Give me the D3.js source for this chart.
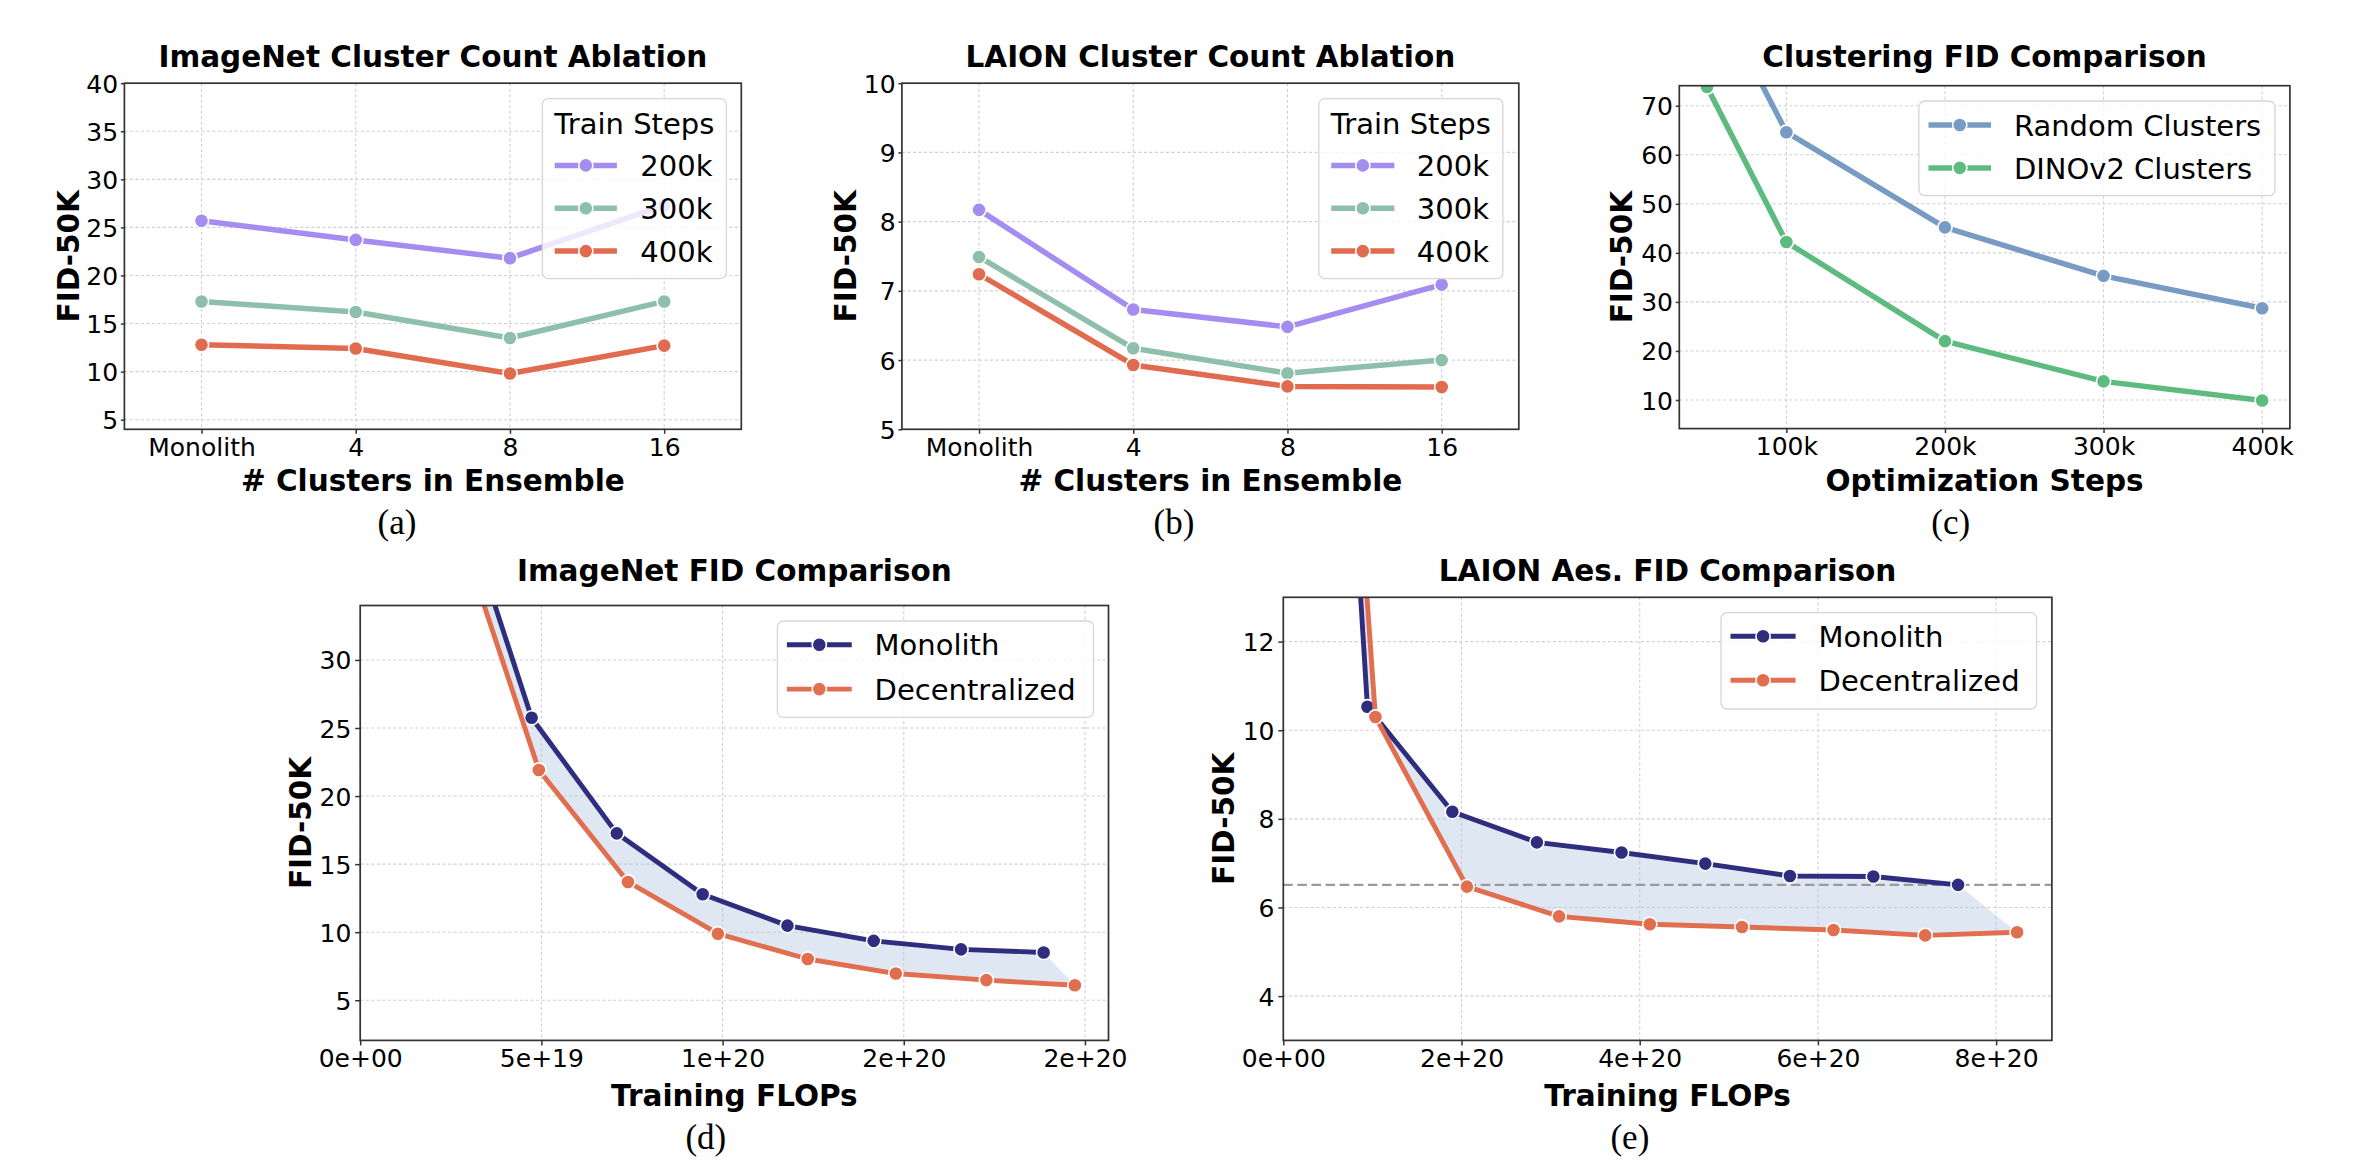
<!DOCTYPE html>
<html><head><meta charset="utf-8">
<script src="https://cdn.jsdelivr.net/npm/d3@7"></script>
<style>body{margin:0;background:#fff} svg{display:block}</style>
</head><body><svg id="chart" width="2366" height="1172"></svg>
<script>
// ---------------- DATA ----------------
const clusterCategories = ["Monolith", "4", "8", "16"];
const trainStepLabels = ["200k", "300k", "400k"];
const imagenetAbl200k = [25.7, 23.7, 21.8, 27.3];
const imagenetAbl300k = [17.3, 16.2, 13.5, 17.3];
const imagenetAbl400k = [12.8, 12.4, 9.8, 12.7];
const laionAbl200k = [8.17, 6.73, 6.48, 7.09];
const laionAbl300k = [7.49, 6.17, 5.81, 6.00];
const laionAbl400k = [7.24, 5.93, 5.62, 5.61];
const imagenetAblYTicks = [5, 10, 15, 20, 25, 30, 35, 40];
const laionAblYTicks = [5, 6, 7, 8, 9, 10];

const optSteps = [50000, 100000, 200000, 300000, 400000];
const clusterTypeLabels = ["Random Clusters", "DINOv2 Clusters"];
const randomClustersFID = [96.0, 64.6, 45.2, 35.3, 28.7];
const dinoClustersFID = [73.8, 42.2, 22.0, 13.8, 9.9];
const optStepTicks = [100000, 200000, 300000, 400000];
const optStepTickLabels = ["100k", "200k", "300k", "400k"];
const clusteringYTicks = [10, 20, 30, 40, 50, 60, 70];

const modelLabels = ["Monolith", "Decentralized"];
const imagenetMonoFlops = [2.37e19, 4.73e19, 7.08e19, 9.45e19, 1.179e20, 1.417e20, 1.658e20, 1.886e20];
const imagenetMonoFID = [45.0, 25.75, 17.26, 12.79, 10.48, 9.36, 8.74, 8.51];
const imagenetDecFlops = [2.47e19, 4.93e19, 7.39e19, 9.87e19, 1.235e20, 1.478e20, 1.728e20, 1.972e20];
const imagenetDecFID = [41.6, 21.92, 13.69, 9.89, 8.03, 6.96, 6.48, 6.10];
const imagenetFlopTicks = [0, 5e19, 1e20, 1.5e20, 2e20];
const imagenetFlopTickLabels = ["0e+00", "5e+19", "1e+20", "2e+20", "2e+20"];
const imagenetFidYTicks = [5, 10, 15, 20, 25, 30];

const laionMonoFlops = [0, 0.944e20, 1.897e20, 2.846e20, 3.796e20, 4.736e20, 5.686e20, 6.622e20, 7.573e20];
const laionMonoFID = [41.3, 10.53, 8.16, 7.47, 7.24, 6.99, 6.71, 6.70, 6.51];
const laionDecFlops = [0, 1.034e20, 2.061e20, 3.095e20, 4.113e20, 5.148e20, 6.175e20, 7.204e20, 8.235e20];
const laionDecFID = [39.8, 10.30, 6.47, 5.80, 5.62, 5.56, 5.49, 5.37, 5.44];
const laionRefLine = 6.51;
const laionFlopTicks = [0, 2e20, 4e20, 6e20, 8e20];
const laionFlopTickLabels = ["0e+00", "2e+20", "4e+20", "6e+20", "8e+20"];
const laionFidYTicks = [4, 6, 8, 10, 12];

// ---------------- STYLE ----------------
const SANS = "DejaVu Sans";
const SERIF = "Liberation Serif";
const C200 = "#a58cf0", C300 = "#8ebfab", C400 = "#e06b4f";
const CRAND = "#789bc3", CDINO = "#5ebb80";
const CMONO = "#2f2e7e", CDEC = "#e26e50";
const MARKER_R = 7.1;

const svg = d3.select("#chart");
const defs = svg.append("defs");

function drawPanel(p) {
  const g = svg.append("g");
  const x = p.x, y = p.y;
  const [x0, x1] = x.range();
  const [yb, yt] = y.range();
  const clipId = "clip_" + p.id;
  defs.append("clipPath").attr("id", clipId).append("rect")
    .attr("x", x0).attr("y", yt).attr("width", x1 - x0).attr("height", yb - yt);

  // grid
  const grid = g.append("g").attr("stroke", "#cfcfcf").attr("stroke-width", 1.1).attr("stroke-dasharray", "3,2.5");
  grid.selectAll("line.h").data(p.yTicks).join("line").attr("class", "h")
    .attr("x1", x0).attr("x2", x1).attr("y1", d => y(d)).attr("y2", d => y(d));
  grid.selectAll("line.v").data(p.xGrid).join("line").attr("class", "v")
    .attr("x1", d => x(d)).attr("x2", d => x(d)).attr("y1", yt).attr("y2", yb);

  const plot = g.append("g").attr("clip-path", `url(#${clipId})`);

  if (p.fill) {
    const a = p.fill[0], b = p.fill[1];
    const pts = a.xs.map((v, i) => [x(v), y(a.ys[i])])
      .concat(b.xs.map((v, i) => [x(v), y(b.ys[i])]).reverse());
    plot.append("path").attr("d", d3.line()(pts) + "Z")
      .attr("fill", "#b0c4de").attr("fill-opacity", 0.4).attr("stroke", "none");
  }
  if (p.hline !== undefined) {
    plot.append("line").attr("x1", x0).attr("x2", x1).attr("y1", y(p.hline)).attr("y2", y(p.hline))
      .attr("stroke", "#9a9a9a").attr("stroke-width", 2.3).attr("stroke-dasharray", "9.5,4.6");
  }

  p.series.forEach(s => {
    const pts = s.xs.map((v, i) => [x(v), y(s.ys[i])]);
    plot.append("path").attr("d", d3.line()(pts)).attr("fill", "none")
      .attr("stroke", s.color).attr("stroke-width", p.lw).attr("stroke-linejoin", "round").attr("stroke-linecap", "butt");
    plot.selectAll(null).data(pts).join("circle")
      .attr("cx", d => d[0]).attr("cy", d => d[1]).attr("r", MARKER_R)
      .attr("fill", s.color).attr("stroke", "#fff").attr("stroke-width", 1.6);
  });

  // spines
  g.append("rect").attr("x", x0).attr("y", yt).attr("width", x1 - x0).attr("height", yb - yt)
    .attr("fill", "none").attr("stroke", "#333").attr("stroke-width", 1.7);

  // axes
  const xa = d3.axisBottom(x).tickSizeOuter(0).tickSize(p.xTickLen).tickPadding(p.xTickPad);
  if (p.xTicks) xa.tickValues(p.xTicks).tickFormat((d, i) => p.xTickLabels[i]);
  const gx = g.append("g").attr("transform", `translate(0,${yb})`).call(xa);
  const ya = d3.axisLeft(y).tickSizeOuter(0).tickValues(p.yTicks).tickFormat(d => String(d))
    .tickSize(p.yTickLen).tickPadding(p.yTickPad);
  const gy = g.append("g").attr("transform", `translate(${x0},0)`).call(ya);
  [gx, gy].forEach(ax => {
    ax.select(".domain").remove();
    ax.attr("font-family", SANS).attr("font-size", 25);
    ax.selectAll(".tick line").attr("stroke", "#333").attr("stroke-width", 1.5);
    ax.selectAll(".tick text").attr("fill", "#000");
  });
  gy.selectAll(".tick text").attr("dy", "0.36em");

  // title & labels
  const cx = (x0 + x1) / 2, cy = (yt + yb) / 2;
  g.append("text").attr("x", cx).attr("y", p.titleY).attr("text-anchor", "middle")
    .attr("font-family", SANS).attr("font-weight", "bold").attr("font-size", 29.5).text(p.title);
  g.append("text").attr("x", cx).attr("y", p.xLabelY).attr("text-anchor", "middle")
    .attr("font-family", SANS).attr("font-weight", "bold").attr("font-size", 29.5).text(p.xLabel);
  g.append("text").attr("transform", `translate(${x0 + p.yLabelDx},${cy}) rotate(-90)`).attr("text-anchor", "middle")
    .attr("font-family", SANS).attr("font-weight", "bold").attr("font-size", 29.5).text(p.yLabel);
  g.append("text").attr("x", p.caption[0]).attr("y", p.caption[1]).attr("text-anchor", "middle")
    .attr("font-family", SERIF).attr("font-size", 35).text(p.caption[2]);

  // legend
  const L = p.legend;
  const lg = g.append("g");
  lg.append("rect").attr("x", L.box[0]).attr("y", L.box[1]).attr("width", L.box[2] - L.box[0]).attr("height", L.box[3] - L.box[1])
    .attr("rx", 6).attr("fill", "#fff").attr("fill-opacity", 0.8).attr("stroke", "#d6d6d6").attr("stroke-width", 1.3);
  if (L.title) {
    lg.append("text").attr("x", (L.box[0] + L.box[2]) / 2).attr("y", L.titleY + 10.5).attr("text-anchor", "middle")
      .attr("font-family", SANS).attr("font-size", 29).text(L.title);
  }
  p.series.forEach((s, i) => {
    const ey = L.ys[i];
    lg.append("line").attr("x1", L.hx[0]).attr("x2", L.hx[1]).attr("y1", ey).attr("y2", ey)
      .attr("stroke", s.color).attr("stroke-width", p.lw);
    lg.append("circle").attr("cx", (L.hx[0] + L.hx[1]) / 2).attr("cy", ey).attr("r", MARKER_R)
      .attr("fill", s.color).attr("stroke", "#fff").attr("stroke-width", 1.6);
    lg.append("text").attr("x", L.lx).attr("y", ey + 10.6)
      .attr("font-family", SANS).attr("font-size", 29).text(s.label);
  });
}

// ---- (a) ----
drawPanel({
  id: "a",
  x: d3.scalePoint().domain(clusterCategories).range([124.4, 741.3]).padding(0.5),
  y: d3.scaleLinear().domain([4.0, 40]).range([429.3, 83.2]),
  yTicks: imagenetAblYTicks, xGrid: clusterCategories,
  series: [
    { label: trainStepLabels[0], color: C200, xs: clusterCategories, ys: imagenetAbl200k },
    { label: trainStepLabels[1], color: C300, xs: clusterCategories, ys: imagenetAbl300k },
    { label: trainStepLabels[2], color: C400, xs: clusterCategories, ys: imagenetAbl400k }
  ],
  lw: 5.5, xTickLen: 4.5, xTickPad: 4, yTickLen: 3.5, yTickPad: 2.8,
  title: "ImageNet Cluster Count Ablation", titleY: 67.1,
  xLabel: "# Clusters in Ensemble", xLabelY: 491, yLabel: "FID-50K", yLabelDx: -45.8,
  caption: [397, 534, "(a)"],
  legend: { box: [542.3, 98.6, 726.4, 278.6], title: "Train Steps", titleY: 123.2, ys: [165.4, 208.2, 251.1], hx: [554.7, 616.9], lx: 640.3 }
});

// ---- (b) ----
drawPanel({
  id: "b",
  x: d3.scalePoint().domain(clusterCategories).range([901.9, 1518.8]).padding(0.5),
  y: d3.scaleLinear().domain([5, 10]).range([429.3, 83.2]),
  yTicks: laionAblYTicks, xGrid: clusterCategories,
  series: [
    { label: trainStepLabels[0], color: C200, xs: clusterCategories, ys: laionAbl200k },
    { label: trainStepLabels[1], color: C300, xs: clusterCategories, ys: laionAbl300k },
    { label: trainStepLabels[2], color: C400, xs: clusterCategories, ys: laionAbl400k }
  ],
  lw: 5.5, xTickLen: 4.5, xTickPad: 4, yTickLen: 3.5, yTickPad: 2.8,
  title: "LAION Cluster Count Ablation", titleY: 67.1,
  xLabel: "# Clusters in Ensemble", xLabelY: 491, yLabel: "FID-50K", yLabelDx: -46.3,
  caption: [1174, 534, "(b)"],
  legend: { box: [1318.8, 98.6, 1502.9, 278.6], title: "Train Steps", titleY: 123.2, ys: [165.4, 208.2, 251.1], hx: [1331.2, 1394.4], lx: 1416.8 }
});

// ---- (c) ----
drawPanel({
  id: "c",
  x: d3.scaleLinear().domain([32500, 417500]).range([1679.3, 2289.9]),
  y: d3.scaleLinear().domain([4.17, 74.08]).range([428.6, 85.7]),
  yTicks: clusteringYTicks, xGrid: optStepTicks, xTicks: optStepTicks, xTickLabels: optStepTickLabels,
  series: [
    { label: clusterTypeLabels[0], color: CRAND, xs: optSteps, ys: randomClustersFID },
    { label: clusterTypeLabels[1], color: CDINO, xs: optSteps, ys: dinoClustersFID }
  ],
  lw: 5.5, xTickLen: 4.5, xTickPad: 4, yTickLen: 3.5, yTickPad: 2.8,
  title: "Clustering FID Comparison", titleY: 67,
  xLabel: "Optimization Steps", xLabelY: 491, yLabel: "FID-50K", yLabelDx: -47.3,
  caption: [1950.7, 534, "(c)"],
  legend: { box: [1918.9, 101, 2274.9, 195.7], ys: [125, 167.9], hx: [1928.5, 1991], lx: 2013.9 }
});

// ---- (d) ----
const imagenetMonoSeries = { label: modelLabels[0], color: CMONO, xs: imagenetMonoFlops, ys: imagenetMonoFID };
const imagenetDecSeries = { label: modelLabels[1], color: CDEC, xs: imagenetDecFlops, ys: imagenetDecFID };
drawPanel({
  id: "d",
  x: d3.scaleLinear().domain([0, 2.065e20]).range([360.2, 1108.5]),
  y: d3.scaleLinear().domain([2.05, 34.0]).range([1040.4, 605.5]),
  yTicks: imagenetFidYTicks, xGrid: imagenetFlopTicks, xTicks: imagenetFlopTicks, xTickLabels: imagenetFlopTickLabels,
  fill: [imagenetMonoSeries, imagenetDecSeries],
  series: [imagenetMonoSeries, imagenetDecSeries],
  lw: 4.9, xTickLen: 5, xTickPad: 3.9, yTickLen: 5, yTickPad: 3.8,
  title: "ImageNet FID Comparison", titleY: 580.7,
  xLabel: "Training FLOPs", xLabelY: 1106, yLabel: "FID-50K", yLabelDx: -49.7,
  caption: [705.8, 1149, "(d)"],
  legend: { box: [777.4, 621, 1093.5, 717.4], ys: [644.7, 689.1], hx: [786.9, 851.7], lx: 874.6 }
});

// ---- (e) ----
const laionMonoSeries = { label: modelLabels[0], color: CMONO, xs: laionMonoFlops, ys: laionMonoFID };
const laionDecSeries = { label: modelLabels[1], color: CDEC, xs: laionDecFlops, ys: laionDecFID };
drawPanel({
  id: "e",
  x: d3.scaleLinear().domain([0, 8.626e20]).range([1283.3, 2051.9]),
  y: d3.scaleLinear().domain([3.0, 13.0]).range([1040.4, 597.3]),
  yTicks: laionFidYTicks, xGrid: laionFlopTicks, xTicks: laionFlopTicks, xTickLabels: laionFlopTickLabels,
  fill: [laionMonoSeries, laionDecSeries], hline: laionRefLine,
  series: [laionMonoSeries, laionDecSeries],
  lw: 4.9, xTickLen: 5, xTickPad: 3.9, yTickLen: 5, yTickPad: 3.8,
  title: "LAION Aes. FID Comparison", titleY: 580.7,
  xLabel: "Training FLOPs", xLabelY: 1106, yLabel: "FID-50K", yLabelDx: -48.9,
  caption: [1629.9, 1149, "(e)"],
  legend: { box: [1721, 612.6, 2036.6, 709], ys: [636.3, 680.3], hx: [1730.5, 1795.6], lx: 1818.6 }
});
</script>
</body></html>
